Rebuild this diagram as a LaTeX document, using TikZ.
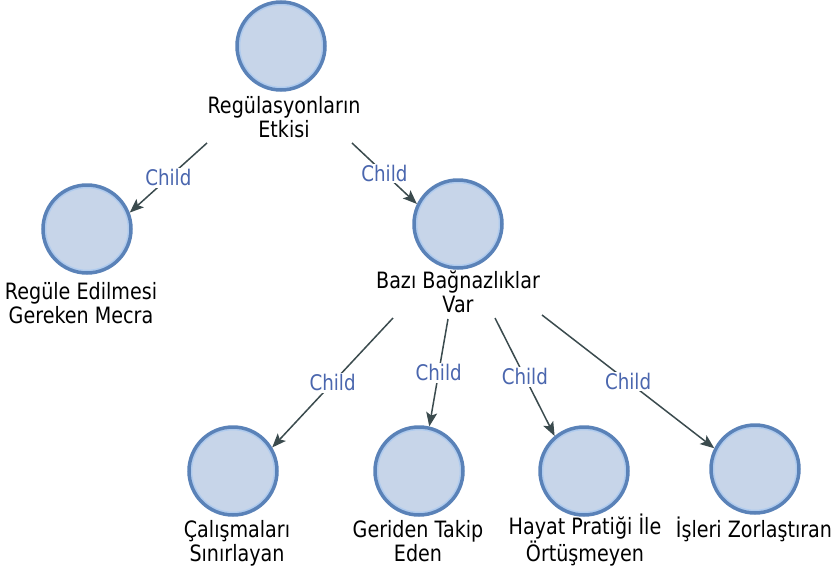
\documentclass[tikz,border=0pt]{standalone}
\usepackage{fontspec}
\setmainfont{DejaVu Sans}[FakeStretch=0.85]
\usetikzlibrary{arrows.meta}

\definecolor{ringblue}{HTML}{5A82B8}
\definecolor{ringlight}{HTML}{AFCBEE}
\definecolor{nodefill}{HTML}{C7D5E9}
\definecolor{edgegray}{HTML}{3B4B4E}
\definecolor{childblue}{HTML}{4A66AE}

\tikzset{
  topic/.style={circle, draw=ringblue, line width=3.5pt, fill=nodefill,
    minimum size=88pt, inner sep=0pt,
    path picture={\draw[ringlight, line width=1.6pt]
      (path picture bounding box.center) circle (41.5pt);}},
  % anchor base sits on the last line's baseline
  caption/.style={align=center, anchor=base, inner sep=0pt,
    font=\fontsize{22.5}{23.5}\selectfont},
  link/.style={edgegray, line width=1.5pt, -{Stealth[length=14pt,width=11pt,inset=3pt]}},
  rel/.style={fill=white, text=childblue, inner sep=1.5pt,
    font=\fontsize{21.5}{22}\selectfont}
}

\begin{document}
\begin{tikzpicture}[x=1pt,y=-1pt]
\useasboundingbox (0,0) rectangle (833,573);

% topic circles
\node[topic] (r)  at (281,46)  {};
\node[topic] (a)  at (87,229)  {};
\node[topic] (b)  at (458,224) {};
\node[topic] (c1) at (233,471) {};
\node[topic] (c2) at (419,471) {};
\node[topic] (c3) at (584,471) {};
\node[topic] (c4) at (755,469) {};

% captions
\node[caption] (rl)  at (284,137) {Regülasyonların\\Etkisi};
\node[caption] (al)  at (81,323)  {Regüle Edilmesi\\Gereken Mecra};
\node[caption] (bl)  at (458,312) {Bazı Bağnazlıklar\\Var};
\node[caption] (c1l) at (237,561) {Çalışmaları\\Sınırlayan};
\node[caption] (c2l) at (418,561) {Geriden Takip\\Eden};
\node[caption] (c3l) at (585,561) {Hayat Pratiği İle\\Örtüşmeyen};
\node[caption] (c4l) at (754,537) {İşleri Zorlaştıran};

% connector start points below the parent captions
\coordinate (s1) at (207,143);
\coordinate (s2) at (352,143);
\coordinate (s3) at (393,318);
\coordinate (s4) at (448,319);
\coordinate (s5) at (495,318);
\coordinate (s6) at (542,315);

% connectors
\draw[link] (s1) -- node[rel, midway] {Child} (a.21);
\draw[link] (s2) -- node[rel, midway] {Child} (b.154);
\draw[link] (s3) -- node[rel, midway] {Child} (c1.31);
\draw[link] (s4) -- node[rel, midway] {Child} (c2.77);
\draw[link] (s5) -- node[rel, midway] {Child} (c3.130);
\draw[link] (s6) -- node[rel, midway] {Child} (c4.153);
\end{tikzpicture}
\end{document}
